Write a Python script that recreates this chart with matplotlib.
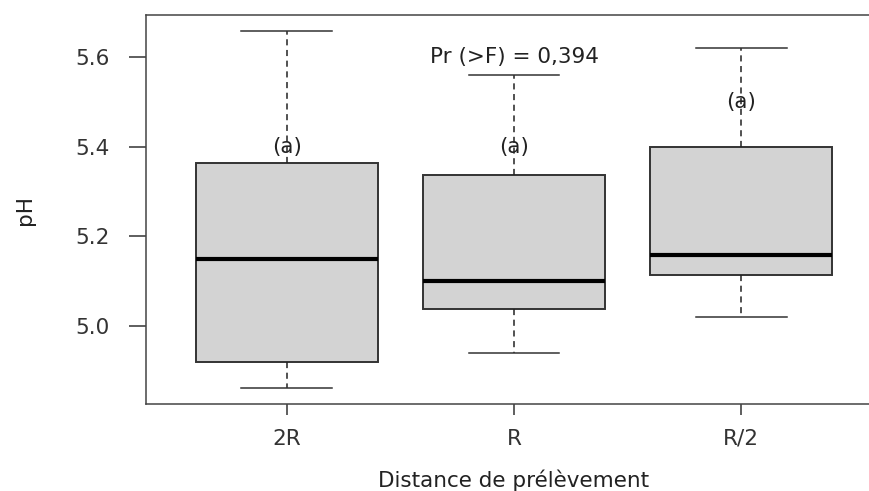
import matplotlib
matplotlib.use("Agg")
import matplotlib.pyplot as plt

# pH par distance de prélèvement
groupes = ["2R", "R", "R/2"]
whisk_bas = [4.861, 4.940, 5.021]
q1 = [4.920, 5.037, 5.114]
mediane = [5.149, 5.100, 5.159]
q3 = [5.364, 5.336, 5.400]
whisk_haut = [5.658, 5.560, 5.620]

lettres = ["(a)", "(a)", "(a)"]
y_lettres = [5.40, 5.40, 5.50]
texte_p = "Pr (>F) = 0,394"
y_p = 5.60

plt.rcParams['font.family'] = ['DejaVu Sans']
fs = 15.5

fig = plt.figure(figsize=(8.69, 4.91), dpi=100)
ax = fig.add_axes([146/869, 1-404/491, 736/869, 389/491])

stats = []
for i, g in enumerate(groupes):
    stats.append(dict(label=g, whislo=whisk_bas[i], q1=q1[i], med=mediane[i],
                      q3=q3[i], whishi=whisk_haut[i], fliers=[]))

ax.bxp(stats, positions=[1, 2, 3], widths=0.8, patch_artist=True,
       boxprops=dict(facecolor='#d3d3d3', edgecolor='#333333', linewidth=1.4),
       medianprops=dict(color='black', linewidth=3),
       whiskerprops=dict(color='#222222', linestyle=(0, (4, 3)), linewidth=1.1),
       capprops=dict(color='#333333', linewidth=1.1),
       capwidths=0.4, showfliers=False)

for i, l in enumerate(lettres):
    ax.text(i + 1, y_lettres[i], l, ha='center', va='center', fontsize=fs, color='#222222')
ax.text(2, y_p, texte_p, ha='center', va='center', fontsize=fs, color='#222222')

ax.set_xlim(0.38, 3.62)
ax.set_ylim(4.826, 5.694)
ax.set_yticks([5.0, 5.2, 5.4, 5.6])
ax.set_yticklabels(["5.0", "5.2", "5.4", "5.6"])
ax.set_xticks([1, 2, 3])
ax.set_xticklabels(groupes)

for s in ax.spines.values():
    s.set_color('#444444')
    s.set_linewidth(1.1)
ax.tick_params(axis='y', length=12, width=1.1, pad=14, labelsize=fs, colors='#333333')
ax.tick_params(axis='x', length=8, width=1.1, pad=10, labelsize=fs, colors='#333333')

fig.text(25/869, 1-210/491, "pH", rotation=90, ha='center', va='center', fontsize=fs, color='#222222')
fig.text(514/869, 1-480/491, "Distance de prélèvement", ha='center', va='center', fontsize=fs, color='#222222')

fig.savefig("out.png", dpi=100)
